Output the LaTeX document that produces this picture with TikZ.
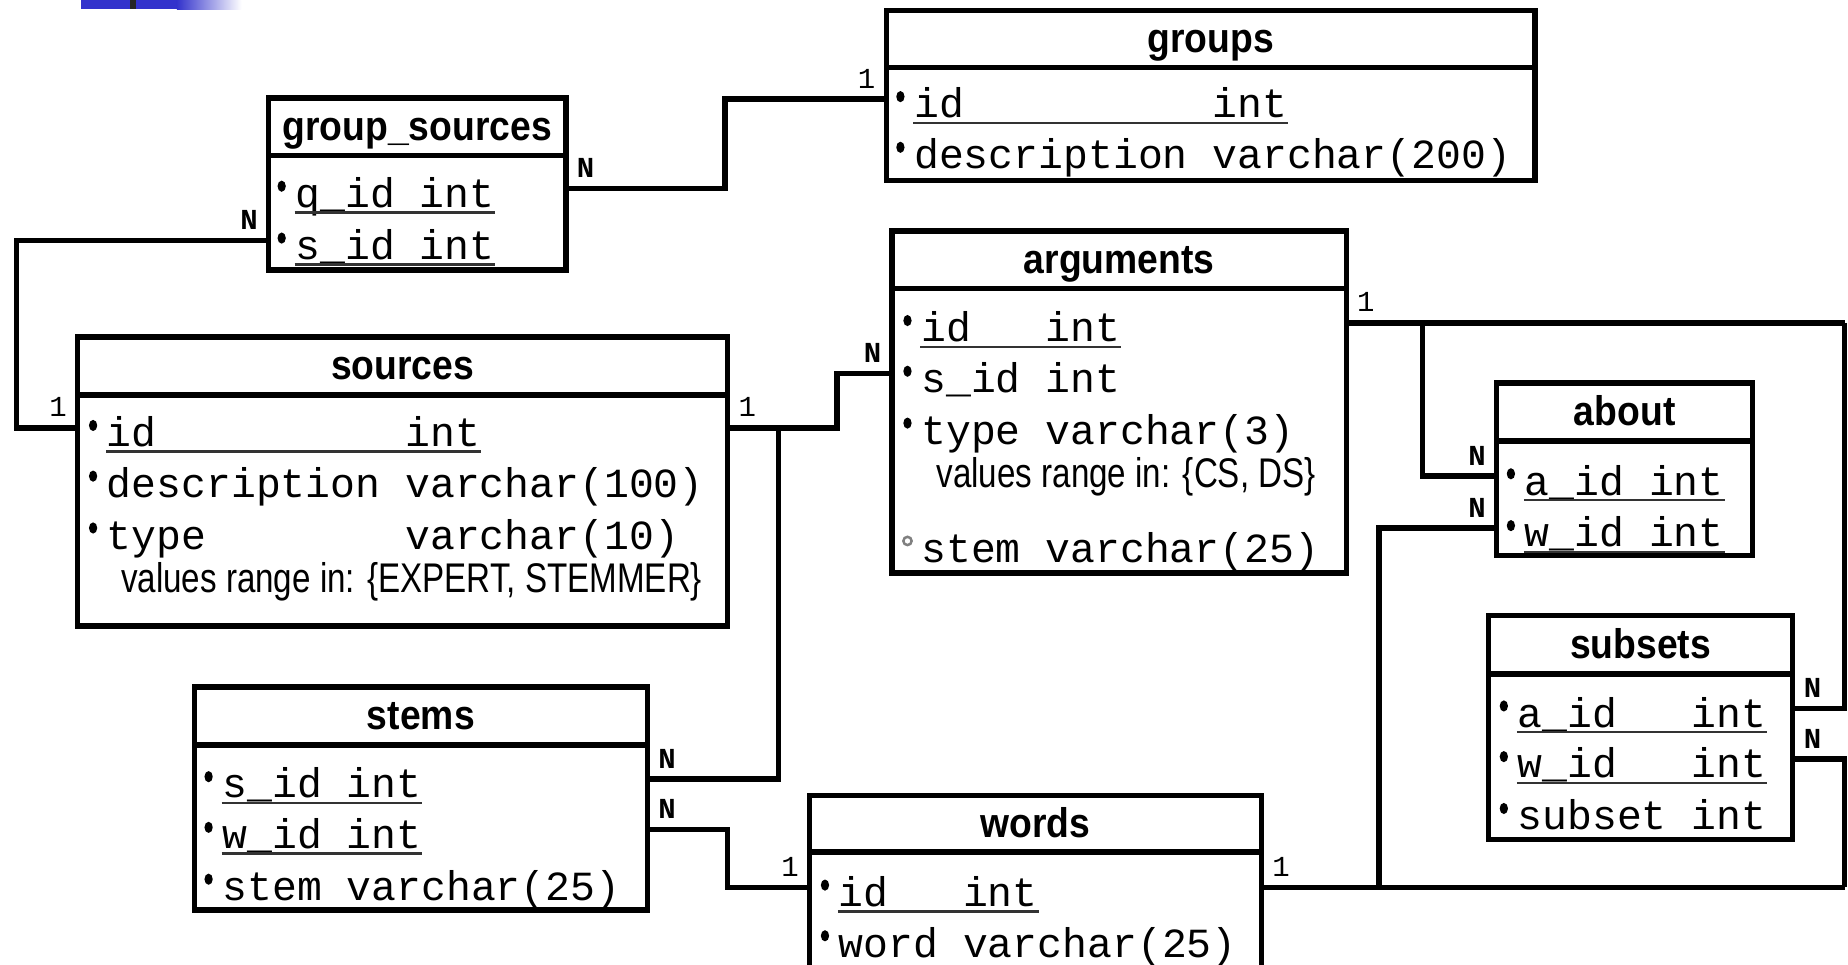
\documentclass[tikz,border=0pt]{standalone}
\usepackage{fontspec}
\setmainfont{Liberation Sans}
\setmonofont{Liberation Mono}
\newfontfamily\titlefont[FakeStretch=0.9]{Liberation Sans}
\newfontfamily\notefont[FakeStretch=0.8]{Liberation Sans}
\usetikzlibrary{positioning}
\definecolor{slideblue}{RGB}{51,51,204}

\tikzset{
	tblhead/.style={draw, line width=1.3pt, anchor=north west, inner sep=0pt, outer sep=0pt,
		text height=0.23cm, text depth=0pt, font=\titlefont\bfseries\fontsize{10}{12}\selectfont},
	tblbody/.style={draw, line width=1.3pt, inner sep=0pt, outer sep=0pt},
	fld/.style={anchor=base west, inner sep=0pt, text height=0.32cm, text depth=0pt,
		font=\ttfamily\fontsize{10}{12}\selectfont},
	note/.style={anchor=base west, inner sep=0pt, font=\notefont\fontsize{10}{12}\selectfont},
	link/.style={line width=1.3pt},
	card/.style={inner sep=2pt, font=\ttfamily\fontsize{7}{8}\selectfont},
	uline/.style={line width=0.6pt, black!80},
}

\begin{document}
\begin{tikzpicture}[x=0.01cm, y=-0.01cm]
	\useasboundingbox (0,0) rectangle (1568,818);
	\clip (0,0) rectangle (1568,818);

	% slide decoration
	\fill[slideblue] (69,0) rectangle (150,8);
	\shade[left color=slideblue, right color=white] (150,0) rectangle (205,8);
	\fill[black!85] (110,0) rectangle (115,8);

	% tables
	\node[tblhead, minimum width=5.50cm, minimum height=0.48cm] (grp) at (752,9) {groups};
	\node[tblbody, minimum width=5.50cm, minimum height=0.96cm, below=0pt of grp] (grp-b) {};
	\node[tblhead, minimum width=2.52cm, minimum height=0.49cm] (gs) at (228,83) {group\_sources};
	\node[tblbody, minimum width=2.52cm, minimum height=0.97cm, below=0pt of gs] (gs-b) {};
	\node[tblhead, minimum width=5.51cm, minimum height=0.49cm] (src) at (66,286) {sources};
	\node[tblbody, minimum width=5.51cm, minimum height=1.96cm, below=0pt of src] (src-b) {};
	\node[tblhead, minimum width=3.85cm, minimum height=0.49cm] (arg) at (757,196) {arguments};
	\node[tblbody, minimum width=3.85cm, minimum height=2.41cm, below=0pt of arg] (arg-b) {};
	\node[tblhead, minimum width=2.17cm, minimum height=0.49cm] (ab) at (1270,325) {about};
	\node[tblbody, minimum width=2.17cm, minimum height=0.97cm, below=0pt of ab] (ab-b) {};
	\node[tblhead, minimum width=2.58cm, minimum height=0.50cm] (sub) at (1263,522) {subsets};
	\node[tblbody, minimum width=2.58cm, minimum height=1.40cm, below=0pt of sub] (sub-b) {};
	\node[tblhead, minimum width=3.84cm, minimum height=0.49cm] (st) at (165,583) {stems};
	\node[tblbody, minimum width=3.84cm, minimum height=1.40cm, below=0pt of st] (st-b) {};
	\node[tblhead, minimum width=3.83cm, minimum height=0.48cm] (wd) at (687,675) {words};
	\node[tblbody, minimum width=3.83cm, minimum height=1.60cm, below=0pt of wd] (wd-b) {};

	% fields
	\node[fld] (grp-id) at (775,100) {id~~~~~~~~~~int};
	\node[fld] (grp-desc) at (775,143) {description varchar(200)};
	\node[fld] (gs-q) at (250,176) {q\_id int};
	\node[fld] (gs-s) at (250,220) {s\_id int};
	\node[fld] (src-id) at (90,379) {id~~~~~~~~~~int};
	\node[fld] (src-desc) at (90,422) {description varchar(100)};
	\node[fld] (src-type) at (90,466) {type~~~~~~~~varchar(10)};
	\node[note] (src-vals) at (102,503) {values range in: \{EXPERT, STEMMER\}};
	\node[fld] (arg-id) at (781,290) {id~~~int};
	\node[fld] (arg-sid) at (781,333) {s\_id int};
	\node[fld] (arg-type) at (781,377) {type varchar(3)};
	\node[note] (arg-vals) at (794,414) {values range in: \{CS, DS\}};
	\node[fld] (arg-stem) at (781,477) {stem varchar(25)};
	\node[fld] (ab-a) at (1293,420) {a\_id int};
	\node[fld] (ab-w) at (1293,464) {w\_id int};
	\node[fld] (sub-a) at (1287,617) {a\_id~~~int};
	\node[fld] (sub-w) at (1287,660) {w\_id~~~int};
	\node[fld] (sub-s) at (1287,704) {subset int};
	\node[fld] (st-s) at (188,677) {s\_id int};
	\node[fld] (st-w) at (188,720) {w\_id int};
	\node[fld] (st-stem) at (188,764) {stem varchar(25)};
	\node[fld] (wd-id) at (711,769) {id~~~int};
	\node[fld] (wd-word) at (711,812) {word varchar(25)};

	% keys and bullets
	\foreach \r in {grp-id, gs-q, gs-s, src-id, arg-id, ab-a, ab-w, sub-a, sub-w, st-s, st-w, wd-id}
		\draw[uline] ([yshift=-1.2pt]\r.base west) -- ([yshift=-1.2pt]\r.base east);
	\foreach \r in {grp-id, grp-desc, gs-q, gs-s, src-id, src-desc, src-type, arg-id, arg-sid, arg-type,
			ab-a, ab-w, sub-a, sub-w, sub-s, st-s, st-w, st-stem, wd-id, wd-word}
		\fill ([xshift=-0.11cm, yshift=0.18cm]\r.base west) ellipse (1pt and 1.35pt);
	\draw[gray, line width=0.6pt] ([xshift=-0.11cm, yshift=0.18cm]arg-stem.base west) circle (1pt);

	% relations
	\draw[link] (gs.east |- gs-q.west) node[card, above right] {\textbf{N}} -- ++(135,0)
		|- (grp.west |- grp-id.west) node[card, above left] {1};
	\draw[link] (gs.west |- gs-s.west) node[card, above left] {\textbf{N}} -- ++(-214,0)
		|- (src.west |- src-id.west) node[card, above left] {1};
	\draw[link] (src.east |- src-id.west) node[card, above right] {1} -- ++(43,0) coordinate (src-j)
		-- ++(50,0) |- (arg.west |- arg-sid.west) node[card, above left] {\textbf{N}};
	\draw[link] (st.east |- st-s.west) node[card, above right] {\textbf{N}} -| (src-j);
	\draw[link] (st.east |- st-w.west) node[card, above right] {\textbf{N}} -- ++(68,0)
		|- (wd.west |- wd-id.west) node[card, above left] {1};
	\draw[link] (wd.east |- wd-id.west) node[card, above right] {1} -- ++(100,0) coordinate (wd-j)
		-- ++(395,0) coordinate (wd-r);
	\draw[link] (wd-j) |- (ab.west |- ab-w.west) node[card, above left] {\textbf{N}};
	\draw[link] (wd-r) |- (sub.east |- sub-w.west) node[card, above right] {\textbf{N}};
	\draw[link] (arg.east |- arg-id.west) node[card, above right] {1} -- ++(65,0) coordinate (arg-j)
		-- ++(358,0) coordinate (arg-r);
	\draw[link] (arg-j) |- (ab.west |- ab-a.west) node[card, above left] {\textbf{N}};
	\draw[link] (arg-r) |- (sub.east |- sub-a.west) node[card, above right] {\textbf{N}};
\end{tikzpicture}
\end{document}
